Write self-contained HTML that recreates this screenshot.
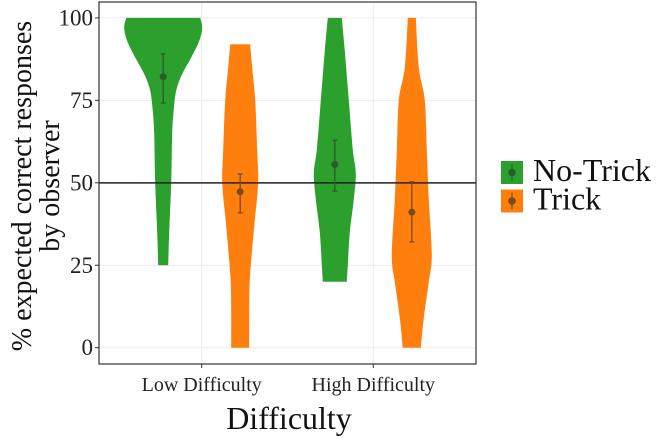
<!DOCTYPE html>
<html><head><meta charset="utf-8"><style>
html,body{margin:0;padding:0;background:#fff;}
svg{display:block;font-family:"Liberation Serif",serif;}
</style></head><body>
<svg id="chart" width="657" height="438" viewBox="0 0 657 438"></svg>
<script>
const categories = ["Low Difficulty","High Difficulty"];
const groups = ["No-Trick","Trick"];
const yTicks = [0,25,50,75,100];
// violin profiles: [value, half-width in density units]
const violinLowNoTrick = [[100,37],[97,39],[93,36],[88,28],[83,19],[78,13],[72,10.5],[65,9],[50,8],[35,6],[25,5]];
const violinLowTrick = [[92,10],[85,12],[75,15],[60,17],[50,18],[40,15],[30,12],[20,9.5],[10,9],[0,9]];
const violinHighNoTrick = [[100,7],[90,10],[75,14],[60,18],[53,21],[45,19],[35,15],[25,13],[20,12]];
const violinHighTrick = [[100,4],[85,7],[75,13],[60,15],[45,17],[28,20],[20,17],[9,12],[0,9]];
const means = [82.2,47.3,55.6,41.1];
const errLow = [74.2,40.9,47.5,32.1];
const errHigh = [89.1,52.7,62.9,50.3];
const refLine = 50;

const NS="http://www.w3.org/2000/svg";
const svg=document.getElementById('chart');
const L=99,R=476,T=2,B=364;
const yScale=v=>347.7-v*3.2977;
const xCat=i=>201.7+i*171.6;
const dodge=g=>(g===0?-38.5:38.5);
const colors=["#2ca02c","#ff7f0e"];
const dark=["#2d5a2d","#7a4a1a"];
function mk(tag,attrs,parent){const e=document.createElementNS(NS,tag);for(const k in attrs)e.setAttribute(k,attrs[k]);(parent||svg).appendChild(e);return e;}
function smooth(pts){
  let d=`L${pts[0][0]},${pts[0][1]}`;
  for(let i=0;i<pts.length-1;i++){
    const p0=pts[Math.max(0,i-1)],p1=pts[i],p2=pts[i+1],p3=pts[Math.min(pts.length-1,i+2)];
    const c1=[p1[0]+(p2[0]-p0[0])/6,p1[1]+(p2[1]-p0[1])/6];
    const c2=[p2[0]-(p3[0]-p1[0])/6,p2[1]-(p3[1]-p1[1])/6];
    d+=`C${c1[0]},${c1[1]} ${c2[0]},${c2[1]} ${p2[0]},${p2[1]}`;
  }
  return d;
}

const bg=mk('rect',{x:L,y:T,width:R-L,height:B-T,fill:'#fff'});


yTicks.forEach(v=>{
  const g=mk('line',{x1:L,x2:R,y1:yScale(v),y2:yScale(v),stroke:'#ebebeb','stroke-width':1});
  
  
});
categories.forEach((c,i)=>{
  const g=mk('line',{x1:xCat(i),x2:xCat(i),y1:T,y2:B,stroke:'#ebebeb','stroke-width':1});
  
  
});

const violins=[violinLowNoTrick,violinLowTrick,violinHighNoTrick,violinHighTrick];
violins.forEach((prof,k)=>{
  const ci=Math.floor(k/2),g=k%2,cx=xCat(ci)+dodge(g);
  const right=prof.map(([v,w])=>[cx+w,yScale(v)]);
  const left=prof.slice().reverse().map(([v,w])=>[cx-w,yScale(v)]);
  const d='M'+right[0][0]+','+right[0][1]+smooth(right).slice(1).replace(/^[^C]*/,'')+smooth(left)+'Z';
  const p=mk('path',{d:d,fill:colors[g]});
  
  
});

const ref=mk('line',{x1:L,x2:R,y1:yScale(refLine),y2:yScale(refLine),stroke:'#222','stroke-width':1.5});



means.forEach((m,k)=>{
  const ci=Math.floor(k/2),g=k%2,cx=xCat(ci)+dodge(g);
  const eb=mk('path',{d:`M${cx-2.5},${yScale(errHigh[k])}H${cx+2.5}M${cx},${yScale(errHigh[k])}V${yScale(errLow[k])}M${cx-2.5},${yScale(errLow[k])}H${cx+2.5}`,stroke:dark[g],'stroke-width':1.3,fill:'none'});
  
  
  const d=mk('circle',{cx:cx,cy:yScale(m),r:3.5,fill:dark[g]});
  
  
});

const border=mk('rect',{x:L,y:T,width:R-L,height:B-T,fill:'none',stroke:'#333','stroke-width':1.2});



yTicks.forEach(v=>{
  const t=mk('line',{x1:95,x2:L,y1:yScale(v),y2:yScale(v),stroke:'#333'});
  
  
  const l=mk('text',{x:93,y:yScale(v)+7.5,'text-anchor':'end','font-size':23,fill:'#222'});
  l.textContent=v;
  
  
});
categories.forEach((c,i)=>{
  const t=mk('line',{x1:xCat(i),x2:xCat(i),y1:B,y2:B+4,stroke:'#333'});
  
  
  const l=mk('text',{x:xCat(i),y:391,'text-anchor':'middle','font-size':20,fill:'#222'});
  l.textContent=c;
  
  
});
const xt=mk('text',{x:289,y:429,'text-anchor':'middle','font-size':32,fill:'#111'});
xt.textContent='Difficulty';


const yt=mk('text',{transform:'translate(0,186) rotate(-90)','text-anchor':'middle','font-size':28,fill:'#111'});


const s1=mk('tspan',{x:0,y:31},yt);s1.textContent='% expected correct responses';
const s2=mk('tspan',{x:0,y:59},yt);s2.textContent='by observer';

groups.forEach((g,i)=>{
  const y0=161+i*28.5;
  const r=mk('rect',{x:501,y:y0,width:22,height:23,fill:colors[i]});
  
  
  mk('line',{x1:512,x2:512,y1:y0+3,y2:y0+20,stroke:dark[i],'stroke-width':1.2});
  mk('circle',{cx:512,cy:y0+11.5,r:3.8,fill:dark[i]});
  const t=mk('text',{x:533,y:y0+20,'font-size':32,fill:'#111'});
  t.textContent=g;
  
  
});
</script>
</body></html>
